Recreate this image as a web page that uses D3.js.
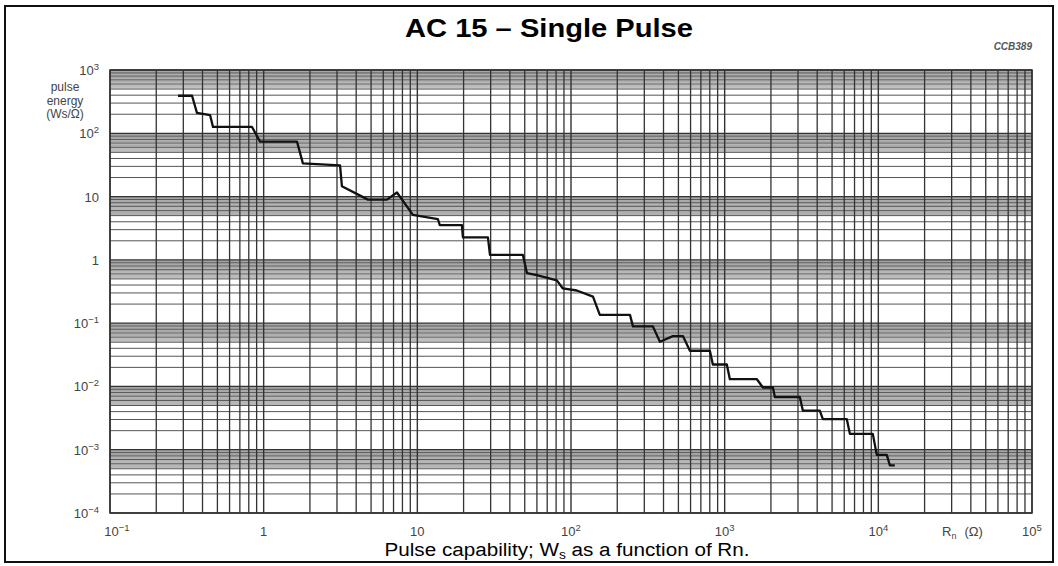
<!DOCTYPE html>
<html>
<head>
<meta charset="utf-8">
<script src="https://cdn.jsdelivr.net/npm/d3@7"></script>
<style>
  body { margin: 0; background: #fff; }
  svg { display: block; font-family: "Liberation Sans", Arial, sans-serif; }
</style>
</head>
<body>
<svg id="chart"></svg>
<script>
const width = 1058;
const height = 566;
const margin = { top: 70, right: 26, bottom: 53, left: 110 };

// step curve: Rn in ohm, pulse energy in Ws/ohm
const resistance = [0.277, 0.342, 0.368, 0.448, 0.468, 0.84, 0.946, 1.647, 1.80, 3.14, 3.23, 4.77, 6.34, 7.37, 9.36,
  13.6, 14.0, 19.5, 19.8, 28.8, 29.7, 48.6, 51.7, 60.0, 80.9, 88.5, 109, 139, 154, 242, 253, 341, 379, 460, 535,
  594, 801, 838, 1033, 1081, 1621, 1774, 2060, 2122, 3085, 3228, 4159, 4355, 6238, 6531, 9204, 9772, 11350, 11890, 12800];
const energy = [392, 392, 210, 194, 126, 126, 74, 74, 33.5, 31, 14.6, 8.95, 8.95, 11.6, 5.13,
  4.42, 3.53, 3.53, 2.26, 2.26, 1.2, 1.2, 0.617, 0.573, 0.475, 0.353, 0.328, 0.262, 0.135, 0.135, 0.0889, 0.0889, 0.0507, 0.0624, 0.0624,
  0.0366, 0.0366, 0.0222, 0.0222, 0.0130, 0.0130, 0.00962, 0.00962, 0.00681, 0.00681, 0.00414, 0.00414, 0.00304, 0.00304, 0.00178, 0.00178, 0.000828, 0.000828, 0.000567, 0.000567];

// tick labels as [mantissa, exponent]
const xTicks = [0.1, 1, 10, 100, 1e3, 1e4, 1e5];
const xTickLabels = [['10', '−1'], ['1', ''], ['10', ''], ['10', '2'], ['10', '3'], ['10', '4'], ['10', '5']];
const yTicks = [1e3, 1e2, 10, 1, 0.1, 0.01, 1e-3, 1e-4];
const yTickLabels = [['10', '3'], ['10', '2'], ['10', ''], ['1', ''], ['10', '−1'], ['10', '−2'], ['10', '−3'], ['10', '−4']];

// log paper rulings inside each decade
const minorSteps = [2, 3, 4, 5, 6, 7, 8, 9];
const fineSteps = [5.2, 5.4, 5.6, 5.8, 6.2, 6.4, 6.6, 6.8, 7.2, 7.4, 7.6, 7.8, 8.2, 8.4, 8.6, 8.8, 9.2, 9.4, 9.6, 9.8];

const svg = d3.select('#chart')
  .attr('width', width)
  .attr('height', height);

const x = d3.scaleLog()
  .domain([0.1, 1e5])
  .range([margin.left, width - margin.right]);

const y = d3.scaleLog()
  .domain([1e-4, 1e3])
  .range([height - margin.bottom, margin.top]);

// outer frame
svg.append('rect')
  .attr('x', 5).attr('y', 6)
  .attr('width', width - 10).attr('height', height - 10)
  .attr('fill', 'none')
  .attr('stroke', '#111')
  .attr('stroke-width', 2);

// title (the scan is stretched sideways, so fit it to its width)
svg.append('text')
  .attr('x', 549).attr('y', 37)
  .attr('text-anchor', 'middle')
  .attr('font-size', 26)
  .attr('font-weight', 'bold')
  .attr('fill', '#000')
  .attr('textLength', 288)
  .attr('lengthAdjust', 'spacingAndGlyphs')
  .text('AC 15 – Single Pulse');

svg.append('text')
  .attr('x', width - margin.right).attr('y', 50)
  .attr('text-anchor', 'end')
  .attr('font-size', 10)
  .attr('font-style', 'italic')
  .attr('font-weight', 'bold')
  .attr('fill', '#555')
  .text('CCB389');

// grid
const decadesX = d3.range(-1, 5).map(e => Math.pow(10, e));
const decadesY = d3.range(-4, 3).map(e => Math.pow(10, e));

const grid = svg.append('g');
const [x0, x1] = x.range();
const [y0, y1] = y.range();

// fine horizontal rulings (grey bands under each decade)
grid.selectAll('line.fine')
  .data(decadesY.flatMap(d => fineSteps.map(m => d * m)))
  .join('line')
  .attr('class', 'fine')
  .attr('x1', x0).attr('x2', x1)
  .attr('y1', d => y(d)).attr('y2', d => y(d))
  .attr('stroke', '#959595')
  .attr('stroke-width', 0.75);

grid.selectAll('line.hminor')
  .data(decadesY.flatMap(d => minorSteps.map(m => d * m)))
  .join('line')
  .attr('class', 'hminor')
  .attr('x1', x0).attr('x2', x1)
  .attr('y1', d => y(d)).attr('y2', d => y(d))
  .attr('stroke', '#555')
  .attr('stroke-width', 1);

grid.selectAll('line.vminor')
  .data(decadesX.flatMap(d => minorSteps.map(m => d * m)))
  .join('line')
  .attr('class', 'vminor')
  .attr('y1', y0).attr('y2', y1)
  .attr('x1', d => x(d)).attr('x2', d => x(d))
  .attr('stroke', '#333')
  .attr('stroke-width', 1.3);

grid.selectAll('line.hmajor')
  .data(yTicks)
  .join('line')
  .attr('class', 'hmajor')
  .attr('x1', x0).attr('x2', x1)
  .attr('y1', d => y(d)).attr('y2', d => y(d))
  .attr('stroke', '#333')
  .attr('stroke-width', 1.3);

grid.selectAll('line.vmajor')
  .data(xTicks)
  .join('line')
  .attr('class', 'vmajor')
  .attr('y1', y0).attr('y2', y1)
  .attr('x1', d => x(d)).attr('x2', d => x(d))
  .attr('stroke', '#333')
  .attr('stroke-width', 1.4);

svg.append('rect')
  .attr('x', x0).attr('y', y1)
  .attr('width', x1 - x0).attr('height', y0 - y1)
  .attr('fill', 'none')
  .attr('stroke', '#333')
  .attr('stroke-width', 1.5);

// pulse energy curve
const points = resistance.map((r, i) => [r, energy[i]]);
svg.append('path')
  .datum(points)
  .attr('fill', 'none')
  .attr('stroke', '#111')
  .attr('stroke-width', 2.3)
  .attr('stroke-linejoin', 'round')
  .attr('d', d3.line().x(d => x(d[0])).y(d => y(d[1])));

// tick labels
function powerLabel(sel) {
  sel.append('tspan').text(d => d[0]);
  sel.append('tspan')
    .attr('dy', -5)
    .attr('font-size', 9.5)
    .text(d => d[1]);
}

svg.append('g')
  .selectAll('text')
  .data(xTickLabels)
  .join('text')
  .attr('x', (d, i) => x(xTicks[i]) + (i === 0 ? 7 : 0))
  .attr('y', 536)
  .attr('text-anchor', 'middle')
  .attr('font-size', 13)
  .attr('fill', '#444')
  .call(powerLabel);

svg.append('g')
  .selectAll('text')
  .data(yTickLabels)
  .join('text')
  .attr('x', 99)
  .attr('y', (d, i) => y(yTicks[i]) + 5)
  .attr('text-anchor', 'end')
  .attr('font-size', 13)
  .attr('fill', '#444')
  .call(powerLabel);

// axis titles
const yTitle = svg.append('text')
  .attr('x', 65).attr('y', 91)
  .attr('text-anchor', 'middle')
  .attr('font-size', 12)
  .attr('fill', '#444');
['pulse', 'energy', '(Ws/Ω)'].forEach((t, i) => {
  yTitle.append('tspan').attr('x', 65).attr('dy', i ? 13.5 : 0).text(t);
});

const xTitle = svg.append('text')
  .attr('x', 942).attr('y', 536)
  .attr('font-size', 13)
  .attr('fill', '#444');
xTitle.append('tspan').text('R');
xTitle.append('tspan').attr('font-size', 9).attr('dy', 3).text('n');
xTitle.append('tspan').attr('dy', -3).attr('dx', 8).text('(Ω)');

// caption
const caption = svg.append('text')
  .attr('x', 567).attr('y', 556)
  .attr('text-anchor', 'middle')
  .attr('font-size', 18)
  .attr('fill', '#000')
  .attr('textLength', 365)
  .attr('lengthAdjust', 'spacingAndGlyphs');
caption.append('tspan').text('Pulse capability; W');
caption.append('tspan').attr('font-size', 12).attr('dy', 3).text('s');
caption.append('tspan').attr('dy', -3).text(' as a function of Rn.');
</script>
</body>
</html>
